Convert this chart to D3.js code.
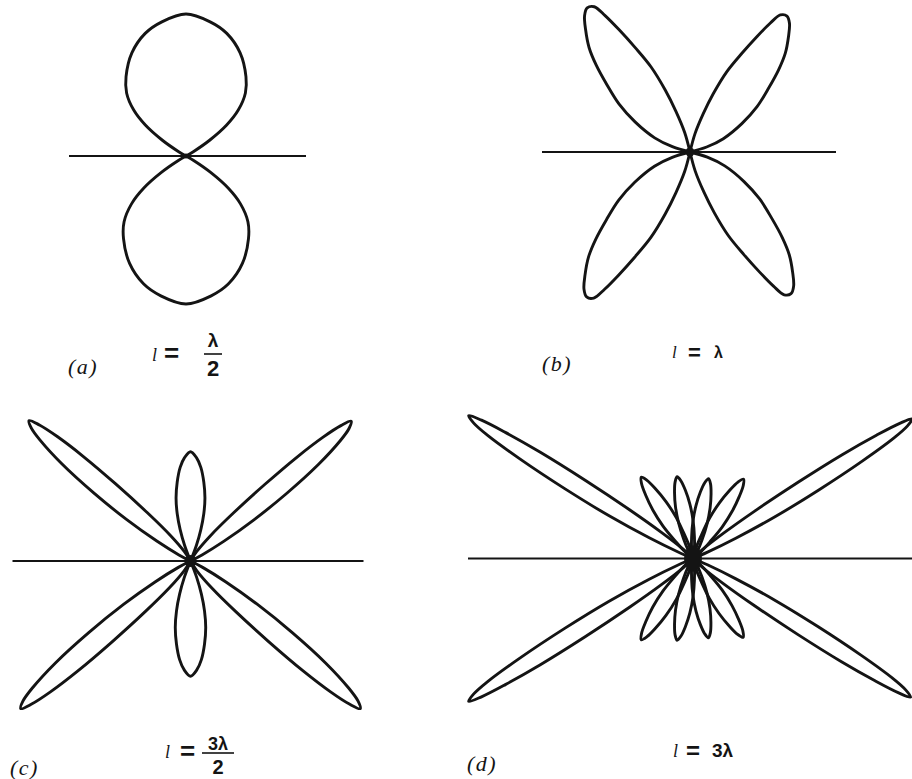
<!DOCTYPE html>
<html>
<head>
<meta charset="utf-8">
<script src="https://cdn.jsdelivr.net/npm/d3@7"></script>
<style>
  body { margin: 0; background: #ffffff; }
  svg { display: block; }
</style>
</head>
<body>
<svg id="chart" width="912" height="779"></svg>
<script>
// ---------------- DATA ----------------
// Panel identifiers and their captions
const panelLetters = ["(a)", "(b)", "(c)", "(d)"];
const lengthNumerators = ["λ", "λ", "3λ", "3λ"];
const lengthDenominators = ["2", "", "2", ""];

// Lobe outlines: [angle in degrees measured from the wire (horizontal), relative field strength]
// Each outline starts and ends at the feed point (r = 0).
// Panel (a), l = λ/2 : right half of the broadside lobe (mirrored about 90°)
const lobeA = [[30,0],[30.5,0.06],[33.7,0.20],[37.3,0.36],[41.3,0.49],[46.7,0.61],[52.9,0.70],
               [62.3,0.82],[71.6,0.91],[79.8,0.96],[90,1.0]];
// Panel (b), l = λ : upper-right lobe
const lobeB = [[76,0],[74.7,0.114],[70.9,0.243],[68.2,0.377],[65.4,0.528],[62.3,0.666],[59.9,0.798],
               [58.1,0.908],[56.6,0.983],[54.5,1.0],[52.3,0.974],[49.5,0.908],[46.0,0.821],[42.8,0.722],
               [39.0,0.604],[34.0,0.483],[28.7,0.354],[21.8,0.215],[16.7,0.104],[16,0]];
// Panel (c), l = 3λ/2 : upper-right main lobe and right half of the broadside minor lobe
const lobeCMain = [[60,0],[56.8,0.052],[51.7,0.153],[48.2,0.302],[45.85,0.502],[44.28,0.701],[43.07,0.850],
                   [42.0,0.950],[41,1.0],[39.89,0.970],[38.75,0.900],[37.04,0.752],[35.12,0.553],
                   [32.95,0.353],[30.6,0.183],[27.7,0.061],[25,0]];
const lobeCSide = [[69,0],[69.4,0.079],[71.8,0.155],[74.3,0.230],[77.1,0.303],[80.4,0.374],
                   [83.7,0.441],[86.7,0.485],[90,0.512]];
// Panel (d), l = 3λ : upper-right main lobe and the two minor lobes of that quadrant
const lobeDMain = [[48,0],[43.2,0.051],[39.67,0.151],[37.53,0.301],[35.96,0.501],[34.82,0.701],[33.9,0.850],
                   [33.18,0.950],[32.5,1.0],[31.72,0.970],[30.94,0.900],[29.91,0.751],[28.58,0.551],
                   [26.96,0.352],[25.33,0.182],[23.56,0.061],[21,0]];
const lobeDOuter = [[78,0],[74.85,0.038],[70.4,0.093],[67.73,0.166],[64.62,0.237],[61.71,0.298],[59.53,0.341],
                    [57.5,0.362],[55.47,0.341],[53.29,0.298],[50.38,0.237],[47.27,0.166],[44.6,0.093],
                    [40.15,0.038],[37,0]];
const lobeDInner = [[102,0],[98.9,0.033],[93.8,0.081],[90.06,0.144],[86.71,0.205],[83.62,0.258],[81.2,0.295],
                    [79,0.313],[76.8,0.295],[74.38,0.258],[71.29,0.205],[67.94,0.144],[64.2,0.081],
                    [59.1,0.033],[56,0]];

// Which lobes belong to which panel (half = outline is the right half of a lobe centred on 90°)
const panelLobes = [
  [{ pts: lobeA, half: true }],
  [{ pts: lobeB }],
  [{ pts: lobeCMain }, { pts: lobeCSide, half: true }],
  [{ pts: lobeDMain }, { pts: lobeDOuter }, { pts: lobeDInner }]
];

// ---------------- LAYOUT (positions / sizes / styles) ----------------
const layout = [
  { cx: 186, cy: 156, wire: [-117, 120], R: { ur: 142, ul: 142, ll: 148, lr: 148 }, dot: 2.5,
    letter: { x: 68, y: 374 }, eq: { lx: 152, ly: 361, ex: 164, ey: 362, fx: 213, numY: 347, barY: 354, barW: 18, denY: 376,
    fsL: 18, fsE: 26, fsN: 19, fsD: 22 } },
  { cx: 690, cy: 152, wire: [-148, 146], R: { ur: 167, ul: 177, ll: 178, lr: 174 }, dot: 4.5,
    letter: { x: 542, y: 371 }, eq: { lx: 672, ly: 358, ex: 688, ey: 360, fx: 714, numY: 358,
    fsL: 17, fsE: 22, fsN: 16 } },
  { cx: 190.5, cy: 561, wire: [-178, 173], R: { ur: 213, ul: 214, ll: 225, lr: 225 }, dot: 6,
    letter: { x: 10, y: 775 }, eq: { lx: 165, ly: 758, ex: 180, ey: 760, fx: 218, numY: 750, barY: 753, barW: 32, denY: 774,
    fsL: 18, fsE: 26, fsN: 18, fsD: 20 } },
  { cx: 693, cy: 558.5, wire: [-225, 219], R: { ur: 260, ul: 266, ll: 266, lr: 258 }, dot: 0,
    blob: { rx: 9, ry: 13 },
    letter: { x: 467, y: 771 }, eq: { lx: 673, ly: 757, ex: 686, ey: 759, fx: 712, numY: 757,
    fsL: 18, fsE: 24, fsN: 19 } }
];

const INK = "#141414";
const svg = d3.select("#chart");
const toRad = a => (90 - a) * Math.PI / 180;

panelLobes.forEach((lobes, i) => {
  const L = layout[i];
  const g = svg.append("g").attr("transform", `translate(${L.cx},${L.cy})`);

  // wire (dipole axis)
  const x = d3.scaleLinear().domain([-1, 1]).range([L.wire[0], L.wire[1]]);
  g.append("line")
    .attr("x1", x(-1)).attr("x2", x(1)).attr("y1", 0).attr("y2", 0)
    .attr("stroke", INK).attr("stroke-width", 2.2);

  // build every copy of every lobe
  const copies = [];
  lobes.forEach(lobe => {
    if (lobe.half) {
      const full = lobe.pts.concat(lobe.pts.slice(0, -1).reverse().map(([a, r]) => [180 - a, r]));
      copies.push({ pts: full, R: (L.R.ur + L.R.ul) / 2 });
      copies.push({ pts: full.map(([a, r]) => [-a, r]), R: (L.R.ll + L.R.lr) / 2 });
    } else {
      copies.push({ pts: lobe.pts, R: L.R.ur });
      copies.push({ pts: lobe.pts.map(([a, r]) => [180 - a, r]), R: L.R.ul });
      copies.push({ pts: lobe.pts.map(([a, r]) => [a - 180, r]), R: L.R.ll });
      copies.push({ pts: lobe.pts.map(([a, r]) => [-a, r]), R: L.R.lr });
    }
  });

  copies.forEach(c => {
    const rScale = d3.scaleLinear().domain([0, 1]).range([0, c.R]);
    const line = d3.lineRadial()
      .angle(d => toRad(d[0]))
      .radius(d => rScale(d[1]))
      .curve(d3.curveCatmullRom.alpha(0.5));
    g.append("path")
      .attr("d", line(c.pts))
      .attr("fill", "none")
      .attr("stroke", INK)
      .attr("stroke-width", 2.9)
      .attr("stroke-linejoin", "round");
  });

  // dark convergence spot at the feed point
  if (L.dot) g.append("circle").attr("r", L.dot).attr("fill", INK);
  if (L.blob) g.append("ellipse").attr("rx", L.blob.rx).attr("ry", L.blob.ry).attr("fill", INK);

  // captions
  svg.append("text")
    .attr("x", L.letter.x).attr("y", L.letter.y)
    .attr("font-family", "Liberation Serif, DejaVu Serif, serif")
    .attr("font-style", "italic").attr("font-size", 22).attr("letter-spacing", 1.5)
    .attr("fill", INK).text(panelLetters[i]);

  const E = L.eq;
  svg.append("text")
    .attr("x", E.lx).attr("y", E.ly)
    .attr("font-family", "Liberation Serif, serif").attr("font-style", "italic")
    .attr("font-size", E.fsL).attr("fill", INK).text("l");
  svg.append("text")
    .attr("x", E.ex).attr("y", E.ey)
    .attr("font-family", "Liberation Sans, Arial, sans-serif").attr("font-weight", "bold")
    .attr("font-size", E.fsE).attr("fill", INK).text("=");

  const hasDen = lengthDenominators[i] !== "";
  svg.append("text")
    .attr("x", E.fx).attr("y", E.numY)
    .attr("text-anchor", hasDen ? "middle" : "start")
    .attr("font-family", "Liberation Sans, Arial, sans-serif").attr("font-weight", "bold")
    .attr("font-size", E.fsN).attr("fill", INK).text(lengthNumerators[i]);
  if (hasDen) {
    svg.append("line")
      .attr("x1", E.fx - E.barW / 2).attr("x2", E.fx + E.barW / 2)
      .attr("y1", E.barY).attr("y2", E.barY)
      .attr("stroke", INK).attr("stroke-width", 1.6);
    svg.append("text")
      .attr("x", E.fx).attr("y", E.denY).attr("text-anchor", "middle")
      .attr("font-family", "Liberation Sans, Arial, sans-serif").attr("font-weight", "bold")
      .attr("font-size", E.fsD).attr("fill", INK).text(lengthDenominators[i]);
  }
});
</script>
</body>
</html>
